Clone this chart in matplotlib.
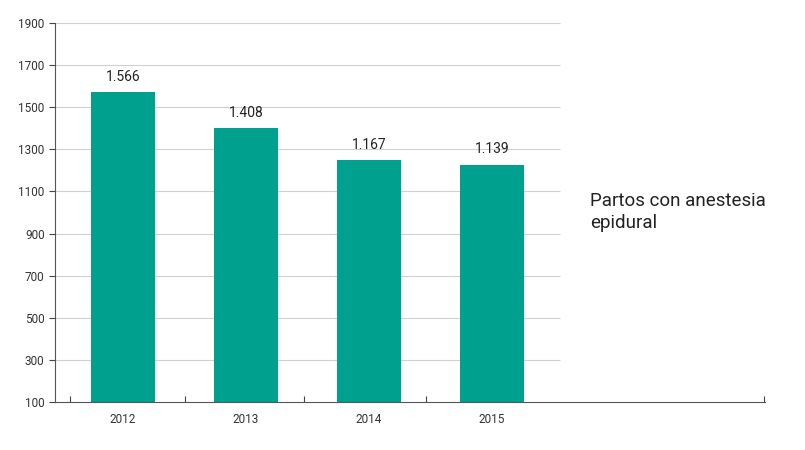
import matplotlib
matplotlib.use("Agg")
import matplotlib.pyplot as plt

years = ["2012", "2013", "2014", "2015"]
bar_heights = [1572, 1401, 1249, 1226]
value_labels = ["1.566", "1.408", "1.167", "1.139"]
yticks = [100, 300, 500, 700, 900, 1100, 1300, 1500, 1700, 1900]

plt.rcParams['font.family'] = ['Roboto', 'DejaVu Sans']
fig = plt.figure(figsize=(8.05, 4.5), dpi=100)
ax = fig.add_axes([55/805, 48/450, 710/805, 379/450])
x = list(range(len(years)))
xmin, xmax = -0.553, 5.22
ax.set_xlim(xmin, xmax)
ax.set_ylim(100, 1900)
ax.hlines(yticks[1:], xmin, 3.55, color="#d0d0d0", lw=0.8, zorder=0)
ax.bar(x, bar_heights, width=0.52, color="#00a08f", zorder=2)
for xi, h, lab in zip(x, bar_heights, value_labels):
    ax.text(xi, h + 40, lab, ha="center", va="bottom", fontsize=10, color="#222222")
ax.set_yticks(yticks)
ax.set_yticklabels([str(t) for t in yticks], fontsize=8.5, color="#333333")
ax.set_xticks([-0.43, 0.5, 1.47, 2.46, xmax-0.005])
ax.set_xticklabels([])
ax.set_xticks(x, minor=True)
ax.set_xticklabels(years, minor=True, fontsize=8.5, color="#333333")
ax.tick_params(axis="x", which="minor", length=0, pad=8)
ax.tick_params(axis="x", which="major", length=4, direction="in", color="#444444")
ax.tick_params(axis="y", length=4, color="#444444")
for s in ["top", "right"]:
    ax.spines[s].set_visible(False)
ax.spines["left"].set_color("#555555")
ax.spines["bottom"].set_color("#555555")
fig.text(590/805, 1 - 212/450, "Partos con anestesia\nepidural", fontsize=13.5,
         color="#222222", va="center", ha="left", linespacing=1.3)
fig.savefig("out.png", dpi=100)
